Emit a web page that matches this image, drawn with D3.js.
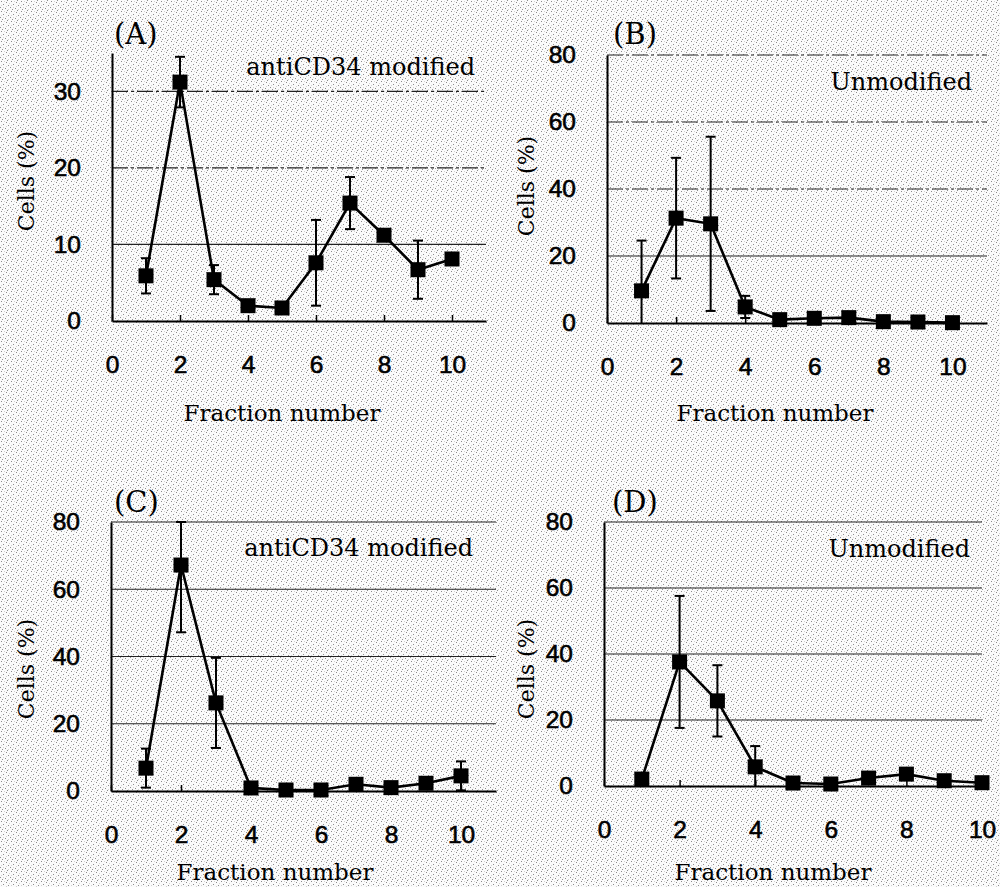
<!DOCTYPE html>
<html>
<head>
	<meta charset="utf-8">
	<title>Fraction profiles</title>
	<script src="https://d3js.org/d3.v7.min.js"></script>
	<style type="text/css">
		body { margin: 0; background: #fff; }
		.tick text {
			font-family: "Liberation Sans", Arial, sans-serif;
			font-size: 24.5px;
			fill: #000;
			stroke: #000;
			stroke-width: 0.6px;
		}
		.serif {
			font-family: "DejaVu Serif", serif;
			fill: #000;
		}
	</style>
</head>
<body>
	<script type="text/javascript">
		var fractions = [1, 2, 3, 4, 5, 6, 7, 8, 9, 10];
		var xTicks = [0, 2, 4, 6, 8, 10];

		// panel A - antiCD34 modified
		var meanA = [5.9, 31.2, 5.4, 2.0, 1.7, 7.6, 15.4, 11.2, 6.7, 8.1];
		var sdA   = [2.3, 3.3, 1.9, 0.3, 0.2, 5.6, 3.4, 0.7, 3.8, 0.4];
		var yTicksA = [0, 10, 20, 30];

		// panel B - unmodified
		var meanB = [9.6, 31.3, 29.6, 4.8, 1.0, 1.4, 1.6, 0.4, 0.3, 0.1];
		var sdB   = [15, 18, 26, 3.3, 0.3, 0.3, 0.3, 0.2, 0.2, 0.1];

		// panel C - antiCD34 modified
		var meanC = [6.8, 67.2, 26.2, 0.9, 0.3, 0.3, 2.0, 1.0, 2.3, 4.5];
		var sdC   = [5.8, 20, 13.4, 0.4, 0.2, 0.2, 1.0, 0.3, 0.5, 4.3];

		// panel D - unmodified
		var meanD = [2.1, 37.6, 25.8, 5.8, 0.9, 0.6, 2.4, 3.6, 1.6, 1.0];
		var sdD   = [0.5, 20, 10.8, 6.3, 0.3, 0.3, 0.6, 0.8, 0.3, 0.4];

		var yTicks80 = [0, 20, 40, 60, 80];

		// tag/note/xlabel/ylabel positions: [x, y]
		var panels = [
			{tag: "(A)", note: "antiCD34 modified", mean: meanA, sd: sdA, yMax: 35, yTicks: yTicksA, dashed: [20, 30],
			 left: 112, top: 53, w: 374, h: 268, xMax: 11,
			 tagPos: [114, 44], notePos: [475, 75], xlPos: [282, 421], ylPos: [34, 181]},
			{tag: "(B)", note: "Unmodified", mean: meanB, sd: sdB, yMax: 80, yTicks: yTicks80, dashed: [40, 60, 80],
			 left: 607, top: 55, w: 380, h: 268, xMax: 11,
			 tagPos: [613, 44], notePos: [972, 90], xlPos: [775, 421], ylPos: [534, 186]},
			{tag: "(C)", note: "antiCD34 modified", mean: meanC, sd: sdC, yMax: 80, yTicks: yTicks80, dashed: [],
			 left: 111, top: 522, w: 385, h: 269, xMax: 11,
			 tagPos: [114, 512], notePos: [473, 556], xlPos: [275, 880], ylPos: [34, 669]},
			{tag: "(D)", note: "Unmodified", mean: meanD, sd: sdD, yMax: 80, yTicks: yTicks80, dashed: [],
			 left: 604, top: 522, w: 378, h: 264, xMax: 10,
			 tagPos: [612, 512], notePos: [970, 557], xlPos: [773, 880], ylPos: [534, 669]}
		];

		var width = 1000, height = 887;
		var svg = d3.select("body")
					.append("svg")
					.attr("width", width)
					.attr("height", height);

		// speckled scan background
		var pat = svg.append("defs").append("pattern")
					.attr("id", "speckle")
					.attr("width", 10)
					.attr("height", 10)
					.attr("patternUnits", "userSpaceOnUse");
		pat.append("rect").attr("width", 10).attr("height", 10).attr("fill", "#fbfbfb");
		[[1,1],[6,2],[3,4],[8,5],[0,7],[5,8],[2,9],[7,0]].forEach(function (p) {
			pat.append("rect").attr("x", p[0]).attr("y", p[1]).attr("width", 1).attr("height", 1).attr("fill", "#8c8c8c");
		});
		[[4,1],[9,3],[1,5],[6,6],[3,7],[8,9]].forEach(function (p) {
			pat.append("rect").attr("x", p[0]).attr("y", p[1]).attr("width", 1).attr("height", 1).attr("fill", "#d2d2d2");
		});
		svg.append("rect").attr("width", width).attr("height", height).attr("fill", "url(#speckle)");

		panels.forEach(function (p) {
			var xScale = d3.scaleLinear().domain([0, p.xMax]).range([p.left, p.left + p.w]);
			var yScale = d3.scaleLinear().domain([0, p.yMax]).range([p.top + p.h, p.top]);
			var g = svg.append("g");
			var x0 = xScale(0), x1 = xScale(p.xMax), y0 = yScale(0);

			// gridlines
			g.selectAll(".grid")
				.data(p.yTicks.filter(function (t) { return t > 0; }))
				.enter()
				.append("line")
				.attr("x1", x0).attr("x2", x1)
				.attr("y1", function (d) { return yScale(d); })
				.attr("y2", function (d) { return yScale(d); })
				.attr("stroke", "#222")
				.attr("stroke-width", 1.2)
				.attr("stroke-dasharray", function (d) { return p.dashed.indexOf(d) >= 0 ? "16,3,3,3" : null; });

			var xAxis = d3.axisBottom(xScale)
						.tickValues(xTicks)
						.tickSizeInner(-6)
						.tickSizeOuter(0)
						.tickPadding(35);
			var gx = g.append("g")
				.attr("transform", "translate(0," + y0 + ")")
				.call(xAxis);
			gx.select(".domain").attr("stroke", "#000").attr("stroke-width", 2);
			gx.selectAll(".tick line").attr("stroke", "#000").attr("stroke-width", 1.5);

			var yAxis = d3.axisLeft(yScale)
						.tickValues(p.yTicks)
						.tickSize(0)
						.tickPadding(31);
			var gy = g.append("g")
				.attr("transform", "translate(" + x0 + ",0)")
				.call(yAxis);
			gy.select(".domain").attr("stroke", "#000").attr("stroke-width", 2);

			// error bars
			var eb = g.selectAll(".err")
				.data(fractions)
				.enter()
				.append("g");
			eb.each(function (f, i) {
				var e = d3.select(this);
				var hi = Math.min(p.mean[i] + p.sd[i], p.yMax);
				var lo = Math.max(p.mean[i] - p.sd[i], 0);
				var cx = xScale(f);
				e.append("line")
					.attr("x1", cx).attr("x2", cx)
					.attr("y1", yScale(hi)).attr("y2", yScale(lo))
					.attr("stroke", "#000").attr("stroke-width", 2);
				[hi, lo].forEach(function (v) {
					if (v <= 0) return;
					e.append("line")
						.attr("x1", cx - 5).attr("x2", cx + 5)
						.attr("y1", yScale(v)).attr("y2", yScale(v))
						.attr("stroke", "#000").attr("stroke-width", 2);
				});
			});

			var line = d3.line()
						.x(function (d) { return xScale(d); })
						.y(function (d, i) { return yScale(p.mean[i]); });
			g.append("path")
				.datum(fractions)
				.attr("d", line)
				.attr("fill", "none")
				.attr("stroke", "#000")
				.attr("stroke-width", 2.6)
				.attr("stroke-linejoin", "miter");

			g.selectAll(".pt")
				.data(fractions)
				.enter()
				.append("rect")
				.attr("x", function (d) { return xScale(d) - 7.5; })
				.attr("y", function (d, i) { return yScale(p.mean[i]) - 7.5; })
				.attr("width", 15)
				.attr("height", 15)
				.attr("fill", "#000");

			// texts
			g.append("text")
				.attr("class", "serif")
				.attr("x", p.tagPos[0])
				.attr("y", p.tagPos[1])
				.attr("font-size", "29px")
				.text(p.tag);

			g.append("text")
				.attr("class", "serif")
				.attr("x", p.notePos[0])
				.attr("y", p.notePos[1])
				.attr("text-anchor", "end")
				.attr("font-size", "24px")
				.text(p.note);

			g.append("text")
				.attr("class", "serif")
				.attr("x", p.xlPos[0])
				.attr("y", p.xlPos[1])
				.attr("text-anchor", "middle")
				.attr("font-size", "23px")
				.text("Fraction number");

			g.append("text")
				.attr("class", "serif")
				.attr("transform", "translate(" + p.ylPos[0] + "," + p.ylPos[1] + ") rotate(-90)")
				.attr("text-anchor", "middle")
				.attr("font-size", "22px")
				.text("Cells (%)");
		});
	</script>
</body>
</html>
